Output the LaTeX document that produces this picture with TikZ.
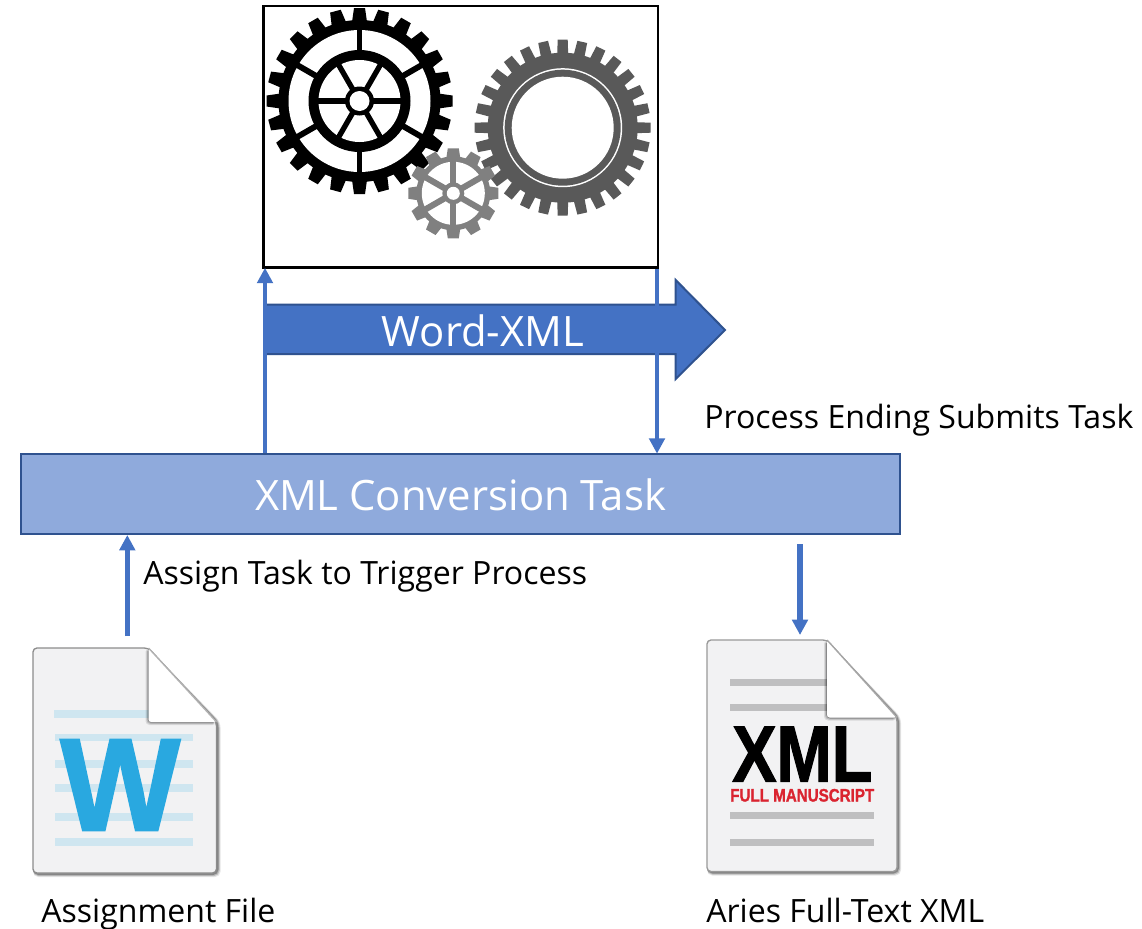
\documentclass[tikz,border=0pt]{standalone}
\usepackage{graphicx}
\usepackage{fontspec}
\setmainfont{Open Sans}
\newfontfamily\heavyfont[UprightFont=* Bold,FakeBold=1.5]{Liberation Sans}
\usetikzlibrary{arrows.meta,calc}
\definecolor{blue1}{HTML}{4472C4}
\definecolor{blue2}{HTML}{2F528F}
\definecolor{blue3}{HTML}{8FAADC}
\definecolor{wordblue}{HTML}{29A8E0}
\definecolor{wordline}{HTML}{CFE6F0}
\definecolor{pagefill}{HTML}{F2F2F3}
\definecolor{xmlline}{HTML}{BFBFC0}
\definecolor{xmlred}{HTML}{DA2430}
\tikzset{
  flow/.style={draw=blue1,line width=3.6pt,-{Triangle[length=11.5pt,width=11.5pt]},shorten >=-0.5pt},
  flowthin/.style={draw=blue1,line width=4pt,-{Triangle[length=11.5pt,width=11.5pt]}},
  label/.style={font=\fontsize{24.05pt}{28pt}\selectfont,text=black,inner sep=0,anchor=base west},
  bigtext/.style={font=\fontsize{31.4pt}{36pt}\selectfont,text=white,inner sep=0,anchor=base},
  framebox/.style={draw=black,line width=1.8pt,fill=white,rectangle,inner sep=0,minimum width=295.8pt,minimum height=195.9pt},
  taskbox/.style={draw=blue2,line width=1.5pt,fill=blue3,rectangle,inner sep=0,minimum width=659.2pt,minimum height=60pt},
  iconglyph/.style={inner sep=0,anchor=south west},
}
% gear: cx cy root outer n halfbase halftip colour
\newcommand{\gearteeth}[8]{%
  \pgfmathsetmacro{\gstep}{360/#5}%
  \foreach \k in {1,...,#5}{%
    \pgfmathsetmacro{\ga}{\k*\gstep+90}%
    \begin{scope}[shift={(#1,#2)},rotate=\ga]
      \fill[#8] (#3-2,-#6) -- (#4,-#7) -- (#4,#7) -- (#3-2,#6) -- cycle;
    \end{scope}
  }%
  \fill[#8] (#1,#2) circle (#3);
}
\newcommand{\gearspokes}[7]{% cx cy from to startangle width colour
  \foreach \k in {0,...,5}{%
    \pgfmathsetmacro{\ga}{#5+60*\k}%
    \draw[#7,line width=#6] ($(#1,#2)+(\ga:#3)$) -- ($(#1,#2)+(\ga:#4)$);
  }%
}
% page icon: x0 y0 x1 y1 foldx foldy edge
\newcommand{\docpage}[7]{%
  \foreach \o/\w in {4/0.10,3/0.18,2/0.28}{%
    \fill[black,opacity=\w,rounded corners=4] (#1,#2) -- (#5,#2) -- (#3+\o,#6) -- (#3+\o,#4+\o) -- (#1,#4+\o) -- cycle;
  }%
  \draw[draw=#7,line width=1pt,fill=pagefill,rounded corners=3] (#1,#2) -- (#5,#2) -- (#3,#6) -- (#3,#4) -- (#1,#4) -- cycle;
}
\newcommand{\docfold}[6]{%
  \foreach \o/\w in {3/0.10,2/0.15,1/0.25}{%
    \fill[black,opacity=\w,rounded corners=3] (#5-\o,#2) -- (#3,#6+\o) -- (#5-\o,#6+\o) -- cycle;
  }%
  \fill[white,rounded corners=2] (#5,#2) -- (#3,#6) -- (#5,#6) -- cycle;
  \draw[#1,line width=1pt] (#5,#2) -- (#3,#6);
}
\begin{document}
\begin{tikzpicture}[x=0.75pt,y=-0.75pt]
\useasboundingbox (0,0) rectangle (1142,928);
\fill[white] (0,0) rectangle (1142,928);

% frame with gears
\node[framebox] (frame) at (460.5,136.7) {};
% black gear
\gearteeth{359.5}{101}{81}{93}{24}{7.5}{5.5}{black}
\fill[white] (359.5,101) circle (71);
\gearspokes{359.5}{101}{45}{75}{30}{4.4pt}{black}
\fill[black] (359.5,101) circle (51);
\fill[white] (359.5,101) circle (41);
\gearspokes{359.5}{101}{0}{43}{0}{4pt}{black}
\fill[black] (359.5,101) circle (14.5);
\fill[white] (359.5,101) circle (10);
% dark grey gear
\gearteeth{562.7}{127.7}{75}{88}{28}{5.5}{5}{black!65}
\fill[white] (562.7,127.7) circle (59.5);
\fill[black!65] (562.7,127.7) circle (58);
\fill[white] (562.7,127.7) circle (51);
% small gear
\gearteeth{453.3}{193.3}{37}{45}{12}{7}{5.5}{black!50}
\fill[white] (453.3,193.3) circle (31.5);
\gearspokes{453.3}{193.3}{0}{33}{30}{4.6pt}{black!50}
\fill[black!50] (453.3,193.3) circle (11);
\fill[white] (453.3,193.3) circle (6.5);

% block arrow
\draw[fill=blue1,draw=blue2,line width=1.5pt] (264,304.5) -- (675.7,304.5) -- (675.7,280) -- (725,330) -- (675.7,379) -- (675.7,354) -- (264,354) -- cycle;
\node[bigtext] (wordxml) at (483,346) {Word-XML};

% task
\node[taskbox] (task) at (460.5,494) {};
\node[bigtext] (tasklabel) at (460.5,510) {XML Conversion Task};

% connectors
\coordinate (upx) at (265,0);
\coordinate (downx) at (657,0);
\coordinate (assignstart) at (127.3,636);
\coordinate (ariesstart) at (800,544);
\coordinate (ariesend) at (800,635);
\draw[flow] (task.north -| upx) -- (frame.south -| upx);
\draw[flow] (frame.south -| downx) -- (task.north -| downx);
\draw[flowthin] (assignstart) -- (task.south -| assignstart);
\draw[flowthin] (ariesstart) -- (ariesend);

% labels
\node[label] (l1) at (143,584) {Assign Task to Trigger Process};
\node[label] (l2) at (704,428) {Process Ending Submits Task};
\node[label] (l3) at (41,922) {Assignment File};
\node[label] (l4) at (706,922) {Aries Full-Text XML};

% word icon
\docpage{33}{648}{216.5}{873}{148.5}{722}{black!45}
\foreach \y in {714}{\fill[wordline] (54,\y-3.7) rectangle (149,\y+3.7);}
\foreach \y in {737.7,764,788,817,842}{\fill[wordline] (55,\y-3.7) rectangle (193,\y+3.7);}
\docfold{black!30}{648}{216.5}{873}{148.5}{722}
\node[iconglyph,text=wordblue] (wglyph) at (60,830.7) {\resizebox{90pt}{68pt}{\heavyfont W}};

% xml icon
\docpage{707}{640}{897}{871.5}{827}{717.5}{black!40}
\foreach \y in {682.7,707.7}{\fill[xmlline] (730,\y-3.7) rectangle (828,\y+3.7);}
\foreach \y in {815.7,842.3}{\fill[xmlline] (730,\y-3.7) rectangle (874,\y+3.7);}
\docfold{black!35}{640}{897}{871.5}{827}{717.5}
\node[iconglyph] (xmlglyph) at (732,781.7) {\resizebox{105pt}{41pt}{\heavyfont XML}};
\node[iconglyph,text=xmlred] (fullglyph) at (730,802) {\resizebox{108pt}{9.5pt}{\heavyfont FULL MANUSCRIPT}};
\end{tikzpicture}
\end{document}
